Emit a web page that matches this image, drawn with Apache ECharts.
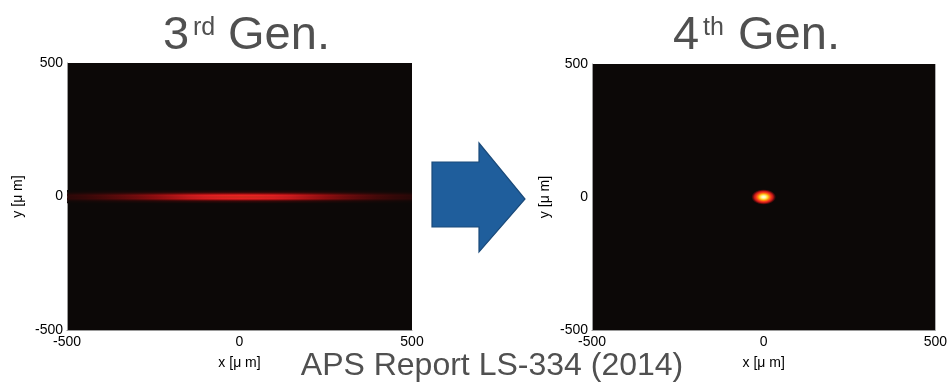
<!DOCTYPE html>
<html>
<head>
<meta charset="utf-8">
<script src="https://cdn.jsdelivr.net/npm/echarts@6/dist/echarts.min.js"></script>
<style>
  html, body { margin: 0; padding: 0; background: #ffffff; }
  #chart { width: 950px; height: 384px; }
</style>
</head>
<body>
<div id="chart"></div>
<script>
// ---------- data ----------
// axis ticks (micrometres)
const axisTicks = [-500, 0, 500];

// 3rd generation beam: horizontal intensity profile (relative)
const gen3X  = [-500, -450, -400, -350, -300, -250, -200, -150, -100, -50, 0, 50, 100, 150, 200, 250, 300, 350, 400, 450, 500];
const gen3XI = [0.16, 0.22, 0.29, 0.37, 0.46, 0.57, 0.69, 0.82, 0.91, 0.97, 1.00, 0.98, 0.93, 0.84, 0.71, 0.58, 0.46, 0.36, 0.27, 0.20, 0.14];
// 3rd generation beam: vertical intensity profile (relative), y in micrometres
const gen3Y  = [-22.5, -19.5, -16.5, -13.5, -10.5, -7.5, -4.5, -1.5, 1.5, 4.5, 7.5, 10.5, 13.5, 16.5, 19.5, 22.5];
const gen3YI = [0.05, 0.12, 0.24, 0.42, 0.63, 0.83, 0.96, 1.00, 1.00, 0.96, 0.83, 0.63, 0.42, 0.24, 0.12, 0.05];
const gen3Peak = 0.44;   // peak intensity on the shared colour scale

// 4th generation beam: round spot at the origin
const gen4Centre = [0, 0];        // micrometres
const gen4Extent = [36, 29];      // half-width, half-height of visible spot (micrometres)
const gen4R  = [0.0, 0.15, 0.3, 0.45, 0.6, 0.75, 0.88, 1.0];   // relative radius
const gen4I  = [1.0, 0.96, 0.86, 0.70, 0.50, 0.32, 0.14, 0.0]; // intensity

const titles = ['3', 'rd', ' Gen.', '4', 'th', ' Gen.'];
const caption = 'APS Report LS-334 (2014)';
const axisNameX = 'x [μ m]';
const axisNameY = 'y [μ m]';

// ---------- colour scale ----------
const CMAP = [
  [0.00, [12, 8, 7]],
  [0.10, [62, 8, 8]],
  [0.25, [155, 14, 16]],
  [0.40, [236, 34, 36]],
  [0.55, [250, 72, 22]],
  [0.70, [255, 140, 12]],
  [0.85, [255, 220, 45]],
  [1.00, [255, 255, 232]]
];
function cmap(t) {
  t = Math.max(0, Math.min(1, t));
  for (let i = 1; i < CMAP.length; i++) {
    if (t <= CMAP[i][0]) {
      const a = CMAP[i - 1], b = CMAP[i];
      const f = (t - a[0]) / (b[0] - a[0]);
      const c = a[1].map((v, k) => Math.round(v + (b[1][k] - v) * f));
      return 'rgb(' + c.join(',') + ')';
    }
  }
  const l = CMAP[CMAP.length - 1][1];
  return 'rgb(' + l.join(',') + ')';
}

const BG = cmap(0);
const FONT = 'Liberation Sans, Arial, sans-serif';

function xAxisOf(idx) {
  return {
    gridIndex: idx, type: 'value', min: axisTicks[0], max: axisTicks[2], interval: 500,
    axisLine: { show: true, onZero: false, lineStyle: { color: '#9a9a9a', width: 1 } },
    axisTick: { show: false }, splitLine: { show: false },
    axisLabel: { color: '#000', fontSize: 14, fontFamily: FONT, margin: 5 },
    name: axisNameX, nameLocation: 'middle', nameGap: 26,
    nameTextStyle: { color: '#000', fontSize: 14, fontFamily: FONT }
  };
}
function yAxisOf(idx, gap) {
  return {
    gridIndex: idx, type: 'value', min: axisTicks[0], max: axisTicks[2], interval: 500,
    axisLine: { show: true, onZero: false, lineStyle: { color: '#9a9a9a', width: 1 } },
    axisTick: { show: false }, splitLine: { show: false },
    axisLabel: { color: '#000', fontSize: 14, fontFamily: FONT, margin: 4 },
    name: axisNameY, nameLocation: 'middle', nameGap: gap,
    nameTextStyle: { color: '#000', fontSize: 14, fontFamily: FONT }
  };
}

// 3rd gen rows
const gen3Data = gen3Y.map((y, i) => [y, gen3YI[i]]);
const rowHalf = (gen3Y[1] - gen3Y[0]) / 2;

function renderGen3(params, api) {
  const y = api.value(0), w = api.value(1);
  const p0 = api.coord([axisTicks[0], y + rowHalf]);
  const p1 = api.coord([axisTicks[2], y - rowHalf]);
  const stops = gen3X.map((x, j) => ({
    offset: (x - axisTicks[0]) / (axisTicks[2] - axisTicks[0]),
    color: cmap(gen3Peak * w * gen3XI[j])
  }));
  return {
    type: 'rect',
    shape: { x: p0[0], y: p0[1], width: p1[0] - p0[0], height: p1[1] - p0[1] + 0.3 },
    style: { fill: new echarts.graphic.LinearGradient(0, 0, 1, 0, stops) }
  };
}

function renderGen4(params, api) {
  const c = api.coord([api.value(0), api.value(1)]);
  const sx = api.size([api.value(2), 0])[0];
  const sy = api.size([0, api.value(3)])[1];
  const stops = gen4R.map((r, j) => ({ offset: r, color: cmap(gen4I[j]) }));
  return {
    type: 'circle',
    x: c[0], y: c[1], scaleX: sx / sy, scaleY: 1,
    shape: { cx: 0, cy: 0, r: sy },
    style: { fill: new echarts.graphic.RadialGradient(0.5, 0.5, 0.5, stops) }
  };
}

const chart = echarts.init(document.getElementById('chart'), null, { renderer: 'canvas' });
const titleColor = '#505050';

chart.setOption({
  animation: false,
  backgroundColor: '#ffffff',
  grid: [
    { left: 67, top: 63, width: 345, height: 267, show: true, backgroundColor: BG, borderWidth: 0 },
    { left: 592, top: 64, width: 346, height: 266, show: true, backgroundColor: BG, borderWidth: 0 }
  ],
  xAxis: [xAxisOf(0), xAxisOf(1)],
  yAxis: [yAxisOf(0, 42), yAxisOf(1, 40)],
  series: [
    {
      type: 'custom', xAxisIndex: 0, yAxisIndex: 0, clip: true,
      renderItem: renderGen3, data: gen3Data, silent: true
    },
    {
      type: 'custom', xAxisIndex: 1, yAxisIndex: 1, clip: true,
      renderItem: renderGen4,
      data: [[gen4Centre[0], gen4Centre[1], gen4Extent[0], gen4Extent[1]]], silent: true
    }
  ],
  graphic: [
    { type: 'text', left: 163, top: 13, silent: true,
      style: { text: titles[0], font: '47px ' + FONT, fill: titleColor } },
    { type: 'text', left: 193, top: 16, silent: true,
      style: { text: titles[1], font: '25px ' + FONT, fill: titleColor } },
    { type: 'text', left: 215, top: 13, silent: true,
      style: { text: titles[2], font: '47px ' + FONT, fill: titleColor } },
    { type: 'text', left: 673, top: 13, silent: true,
      style: { text: titles[3], font: '47px ' + FONT, fill: titleColor } },
    { type: 'text', left: 703, top: 16, silent: true,
      style: { text: titles[4], font: '25px ' + FONT, fill: titleColor } },
    { type: 'text', left: 725, top: 13, silent: true,
      style: { text: titles[5], font: '47px ' + FONT, fill: titleColor } },
    { type: 'polygon', silent: true,
      shape: { points: [[432, 162], [479, 162], [479, 143], [525, 199], [479, 252], [479, 227], [432, 227]] },
      style: { fill: '#1f5e9c', stroke: '#1a4a7a', lineWidth: 1.2 } },
    { type: 'text', x: 492, y: 366, silent: true,
      style: { text: caption, font: '32px ' + FONT, fill: titleColor, align: 'center', verticalAlign: 'middle' } }
  ]
});
</script>
</body>
</html>
